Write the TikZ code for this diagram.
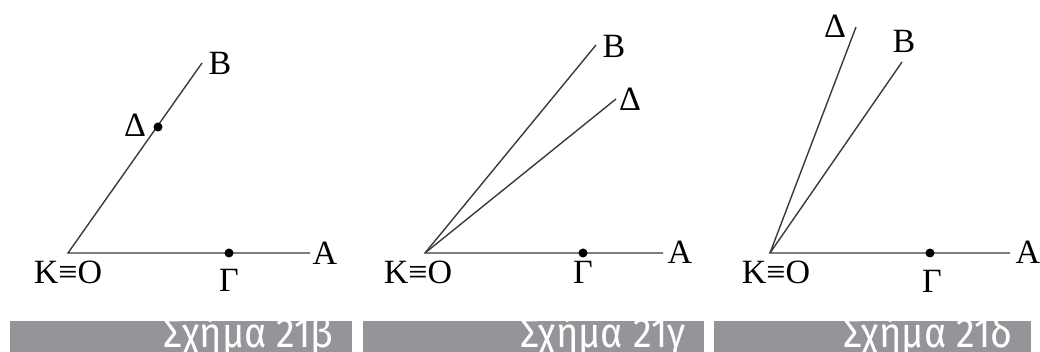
\documentclass[tikz,border=0pt]{standalone}
\usepackage{fontspec}
\setmainfont{Liberation Serif}
\newfontfamily\capfont[FakeStretch=0.9]{Fira Sans}
\usetikzlibrary{positioning}
\definecolor{bargray}{HTML}{939598}
\definecolor{linegray}{HTML}{3A3A3A}

\tikzset{
  side/.style={draw=linegray,line width=0.7pt},
  pt/.style={circle,fill=black,inner sep=0pt,minimum size=4.5pt},
  lbl/.style={inner sep=0pt,font=\fontsize{17}{20}\selectfont},
  captxt/.style={text=white,anchor=base east,inner sep=0pt,font=\capfont\fontsize{21}{24}\selectfont}
}

\begin{document}
\begin{tikzpicture}[x=0.5pt,y=-0.5pt]
\useasboundingbox (0,0) rectangle (1040,352);

% caption bars
\foreach \l/\r/\t in {10/352/β,363/704/γ,714/1031/δ}{
  \fill[bargray] (\l,321) rectangle (\r,352);
  \node[captxt] at (\r-18,348) {Σχήμα 21\t};
}

% Σχήμα 21β
\coordinate (O1) at (68,253);
\coordinate (A1) at (310,253);
\coordinate (B1) at (202,63);
\draw[side] (A1) -- (O1) -- (B1);
\node[pt] (G1) at (229,253) {};
\node[pt] (D1) at (158,127) {};
\node[lbl] (lA1) at (325,253) {A};
\node[lbl] (lB1) at (220,63) {B};
\node[lbl] (lG1) at (229,280) {Γ};
\node[lbl] (lD1) at (135,125) {Δ};
\node[lbl] (lO1) at (68,272) {K≡O};

% Σχήμα 21γ
\coordinate (O2) at (425,253);
\coordinate (A2) at (663,253);
\coordinate (B2) at (596,45);
\coordinate (D2) at (616,99);
\draw[side] (A2) -- (O2) -- (B2);
\draw[side] (O2) -- (D2);
\node[pt] (G2) at (583,253) {};
\node[lbl] (lA2) at (680,252) {A};
\node[lbl] (lB2) at (614,46) {B};
\node[lbl] (lG2) at (583,272) {Γ};
\node[lbl] (lD2) at (630,99) {Δ};
\node[lbl] (lO2) at (418,272) {K≡O};

% Σχήμα 21δ
\coordinate (O3) at (770,253);
\coordinate (A3) at (1010,253);
\coordinate (B3) at (902,62);
\coordinate (D3) at (856,27);
\draw[side] (A3) -- (O3) -- (B3);
\draw[side] (O3) -- (D3);
\node[pt] (G3) at (930,253) {};
\node[lbl] (lA3) at (1028,252) {A};
\node[lbl] (lB3) at (904,41) {B};
\node[lbl] (lG3) at (932,281) {Γ};
\node[lbl] (lD3) at (835,26) {Δ};
\node[lbl] (lO3) at (776,272) {K≡O};
\end{tikzpicture}
\end{document}
